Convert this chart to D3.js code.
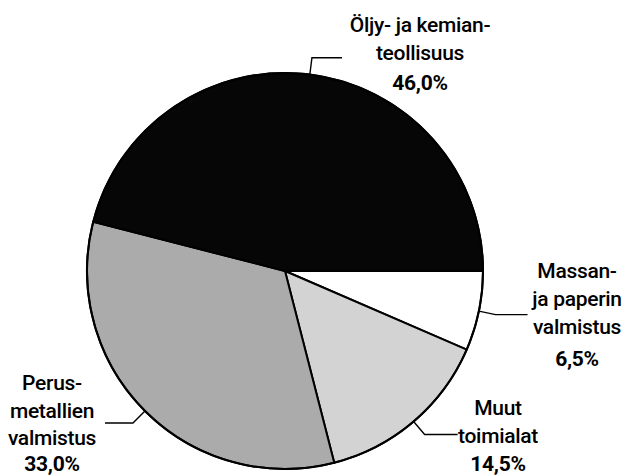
<!DOCTYPE html>
<html>
<head>
<meta charset="utf-8">
<script src="https://cdn.jsdelivr.net/npm/d3@7"></script>
<style>
  body { margin: 0; background: #fff; }
  text { font-family: Roboto, "DejaVu Sans Condensed", sans-serif; fill: #000; }
</style>
</head>
<body>
<div id="chart"></div>
<script>
// toimialat, aloitus klo 3 ja myötäpäivään
const toimialat = ["Massan- ja paperin valmistus", "Muut toimialat", "Perusmetallien valmistus", "Öljy- ja kemianteollisuus"];
const osuudet = [6.5, 14.5, 33.0, 46.0];
const nimirivit = [
    ["Massan-", "ja paperin", "valmistus"],
    ["Muut", "toimialat"],
    ["Perus-", "metallien", "valmistus"],
    ["Öljy- ja kemian-", "teollisuus"]
];
const prosentit = ["6,5%", "14,5%", "33,0%", "46,0%"];

const width = 625, height = 475;
const cx = 285, cy = 271, r = 198;

const svg = d3.select("#chart").append("svg")
    .attr("width", width)
    .attr("height", height);

const g = svg.append("g").attr("transform", `translate(${cx},${cy})`);

const colors = d3.scaleOrdinal()
    .domain(toimialat)
    .range(["#ffffff", "#d3d3d3", "#ababab", "#060606"]);

const pie = d3.pie()
    .sort(null)
    .value(d => d.v)
    .startAngle(Math.PI / 2)
    .endAngle(Math.PI / 2 + 2 * Math.PI);

const data = toimialat.map((k, i) => ({ k, v: osuudet[i], i }));
const arcs = pie(data);

const arc = d3.arc().innerRadius(0).outerRadius(r);

g.selectAll(".slice")
    .data(arcs)
    .enter()
    .append("path")
    .attr("class", "slice")
    .attr("d", arc)
    .attr("fill", d => colors(d.data.k))
    .attr("stroke", "#000")
    .attr("stroke-width", 2)
    .attr("stroke-linejoin", "round");

// ympyrän reuna
g.append("circle")
    .attr("r", r)
    .attr("fill", "none")
    .attr("stroke", "#000")
    .attr("stroke-width", 2);

// viittausviivat
const viivaPituus = [32, 33, -28, 30];
const kulma = d => (d.startAngle + d.endAngle) / 2;
const piste = (a, rr) => [rr * Math.sin(a), -rr * Math.cos(a)];

g.selectAll(".leader")
    .data(arcs)
    .enter()
    .append("polyline")
    .attr("class", "leader")
    .attr("fill", "none")
    .attr("stroke", "#000")
    .attr("stroke-width", 1.4)
    .attr("points", d => {
        const a = kulma(d);
        const p0 = piste(a, r);
        const p1 = piste(a, r + 17);
        const p2 = [p1[0] + viivaPituus[d.data.i], p1[1]];
        return [p0, p1, p2].map(p => p.join(",")).join(" ");
    });

// tekstit: [keskikohta x, ensimmäisen rivin perusviiva, riviväli, prosentin perusviiva]
const tekstiPaikat = [
    [577, 278, 28, 366],
    [498, 415, 28, 471],
    [52, 390, 27.5, 471],
    [420, 32, 28, 90]
];

arcs.forEach(d => {
    const i = d.data.i;
    const [x, y0, dy, yp] = tekstiPaikat[i];
    const t = svg.append("text")
        .attr("text-anchor", "middle")
        .attr("font-size", "21px")
        .attr("font-weight", 500)
        .attr("letter-spacing", "-0.3px");
    nimirivit[i].forEach((rivi, j) => {
        t.append("tspan")
            .attr("x", x)
            .attr("y", y0 + j * dy)
            .text(rivi);
    });
    svg.append("text")
        .attr("x", x)
        .attr("y", yp)
        .attr("text-anchor", "middle")
        .attr("font-size", "21px")
        .attr("font-weight", 700)
        .attr("letter-spacing", "-0.3px")
        .text(prosentit[i]);
});
</script>
</body>
</html>
